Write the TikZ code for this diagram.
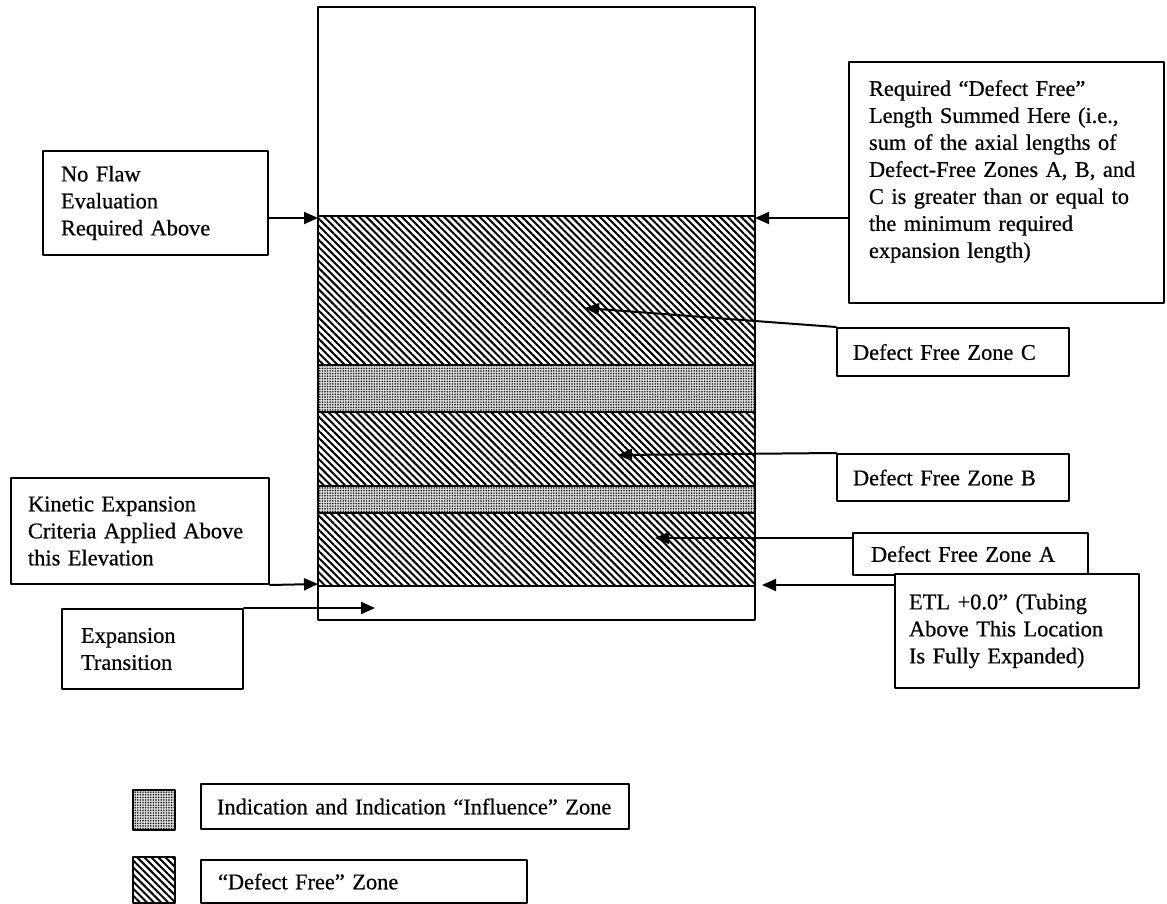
\documentclass[tikz,border=0pt]{standalone}
\usepackage{fontspec}
\setmainfont{Liberation Serif}[WordSpace=0.8,FakeBold=0.6]
\usetikzlibrary{arrows.meta,patterns.meta}
\tikzset{
  lbl/.style={draw,line width=1pt,anchor=north west,align=left,inner ysep=0pt,
    font=\fontsize{11.2}{13.5}\selectfont},
  hatch/.style={draw,line width=1pt,pattern={Lines[angle=-45,distance=2.5pt,line width=1pt]}},
  infl/.style={draw,line width=1pt,fill=black!15,
    postaction={pattern={Dots[distance=1.3pt,radius=0.4pt]}}},
  pointer/.style={line width=1pt,-{Triangle[length=7pt,width=6pt]}}
}
\begin{document}
\begin{tikzpicture}[x=0.5pt,y=-0.5pt,line cap=round,line join=round]
\useasboundingbox (0,0) rectangle (1167,904);
% tube and zones
\draw[hatch] (318,216) rectangle (755,365);
\draw[infl] (318,365) rectangle (755,412);
\draw[hatch] (318,412) rectangle (755,486);
\draw[infl] (318,486) rectangle (755,513);
\draw[hatch] (318,513) rectangle (755,586);
\draw[line width=1.2pt] (318,7) rectangle (755,620);

% labels
\node[lbl,text width=94.5pt,inner xsep=9pt,minimum height=52pt] (noflaw) at (42,150)
  {No Flaw\\Evaluation\\Required Above};
\node[lbl,text width=137.5pt,inner xsep=10pt,minimum height=120.5pt] (required) at (848,61)
  {Required ``Defect Free''\\Length Summed Here (i.e.,\\sum of the axial lengths of\\
   Defect-Free Zones A, B, and\\C is greater than or equal to\\the minimum required\\
   expansion length)\\\mbox{}};
\node[lbl,text width=100pt,inner xsep=8pt,minimum height=24pt] (zoneC) at (836,327)
  {Defect Free Zone C};
\node[lbl,text width=100pt,inner xsep=8pt,minimum height=23.5pt] (zoneB) at (836,453)
  {Defect Free Zone B};
\node[lbl,text width=99.5pt,inner xsep=9pt,minimum height=21pt] (zoneA) at (852,532)
  {Defect Free Zone A};
\node[lbl,text width=108pt,inner xsep=7pt,minimum height=57pt,fill=white] (etl) at (894,573)
  {ETL +0.0'' (Tubing\\Above This Location\\Is Fully Expanded)};
\node[lbl,text width=112pt,inner xsep=8.5pt,minimum height=53pt] (kinetic) at (10,477)
  {Kinetic Expansion\\Criteria Applied Above\\this Elevation};
\node[lbl,text width=71.5pt,inner xsep=9.5pt,minimum height=40pt] (trans) at (61,608)
  {Expansion\\Transition};

% legend
\draw[infl] (133,790) rectangle (175,830);
\draw[hatch] (133,857) rectangle (175,903);
\node[lbl,text width=198pt,inner xsep=8pt,minimum height=22.5pt] (keyinfl) at (200,783)
  {Indication and Indication ``Influence'' Zone};
\node[lbl,text width=146pt,inner xsep=8.5pt,minimum height=21.5pt] (keyfree) at (200,859)
  {``Defect Free'' Zone};

% pointers
\coordinate (noflawtip) at (318,218);
\coordinate (reqtip) at (755,218);
\coordinate (zoneCtip) at (585,308);
\coordinate (zoneBtip) at (618,455);
\coordinate (zoneAtip) at (655,538);
\coordinate (etltip) at (762,585);
\coordinate (kinetictip) at (318,584);
\coordinate (transtip) at (375,608);
\draw[pointer] (noflaw.east |- noflawtip) -- (noflawtip);
\draw[pointer] (required.west |- reqtip) -- (reqtip);
\draw[pointer] (zoneC.north west) -- (755,321) -- (zoneCtip);
\draw[pointer] (zoneB.north west) -- (zoneBtip);
\draw[pointer] (zoneA.west |- zoneAtip) -- (zoneAtip);
\draw[pointer] (etl.west |- etltip) -- (etltip);
\draw[pointer] (kinetic.south east) -- (kinetictip);
\draw[pointer] (trans.north east) -- (transtip);
\end{tikzpicture}
\end{document}
